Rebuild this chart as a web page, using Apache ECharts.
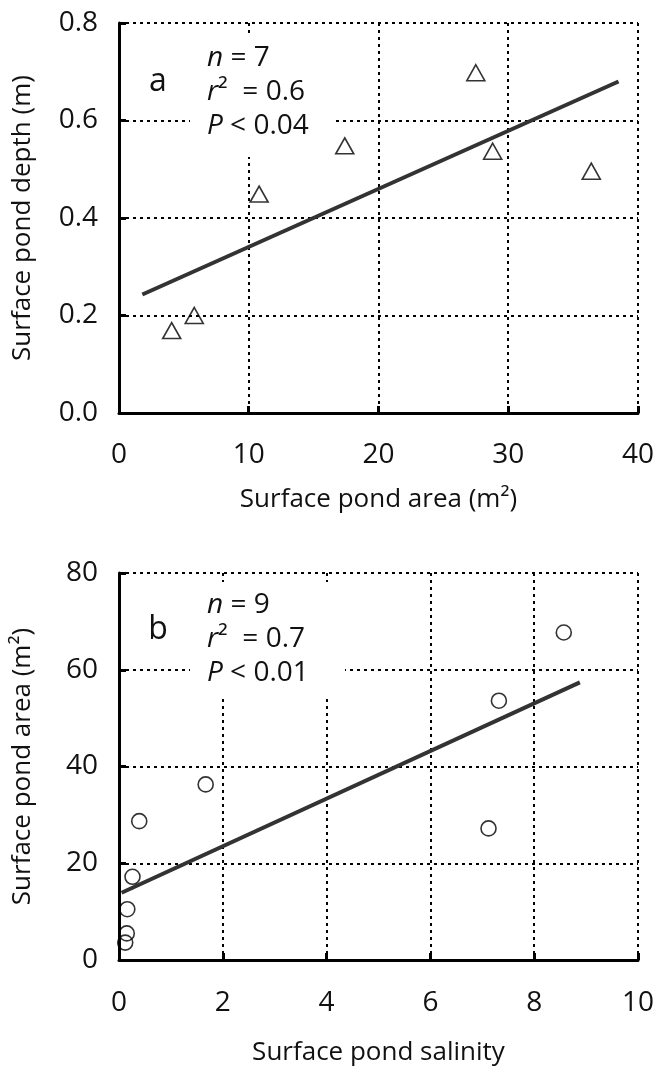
<!DOCTYPE html>
<html>
<head>
<meta charset="utf-8">
<script src="https://cdn.jsdelivr.net/npm/echarts@6/dist/echarts.min.js"></script>
<style>
  html, body { margin: 0; padding: 0; background: #fff; }
  #chart { width: 657px; height: 1068px; }
</style>
</head>
<body>
<div id="chart"></div>
<script>
// Panel a: pond depth against pond area
const depthArea  = [4.06, 5.8, 10.8, 17.4, 27.5, 28.8, 36.4];
const depthValue = [0.169, 0.20, 0.449, 0.548, 0.698, 0.537, 0.496];
const fitAX = [1.8, 38.5];
const fitAY = [0.243, 0.680];

// Panel b: pond area against salinity
const salinity  = [0.12, 0.15, 0.16, 0.26, 0.39, 1.67, 7.12, 7.32, 8.57];
const pondArea  = [3.6, 5.5, 10.5, 17.2, 28.7, 36.3, 27.2, 53.6, 67.7];
const fitBX = [0.05, 8.88];
const fitBY = [13.9, 57.4];

// Statistics text
const statsA = ['{i|n} = 7', '{i|r}²  = 0.6', '{i|P} < 0.04'];
const statsB = ['{i|n} = 9', '{i|r}²  = 0.7', '{i|P} < 0.01'];

const FONT = '"Open Sans", "Noto Sans", sans-serif';
const zip = (xs, ys) => xs.map((x, i) => [x, ys[i]]);

const grids = [
  { left: 119, top: 23, width: 531, height: 390 },
  { left: 119, top: 573, width: 531, height: 387 }
];

function xAxisFor(gridIndex, max, interval, name, nameGap, margin) {
  return {
    type: 'value', gridIndex, min: 0, max, interval,
    name, nameLocation: 'middle', nameGap,
    nameTextStyle: { fontFamily: FONT, fontSize: 26, color: '#111' },
    axisLine: { onZero: false, lineStyle: { color: '#000', width: 3 } },
    axisTick: { inside: true, length: 7, lineStyle: { color: '#000', width: 3 } },
    axisLabel: { margin, fontFamily: FONT, fontSize: 28, color: '#111' },
    splitLine: { show: true, showMinLine: false,
      lineStyle: { color: '#000', width: 2, type: [3, 4] } }
  };
}
function yAxisFor(gridIndex, max, interval, name, fmt, padTop) {
  return {
    type: 'value', gridIndex, min: 0, max, interval,
    name, nameLocation: 'middle', nameGap: 83,
    nameTextStyle: { fontFamily: FONT, fontSize: 26, color: '#111' },
    axisLine: { onZero: false, lineStyle: { color: '#000', width: 3 } },
    axisTick: { inside: true, length: 7, lineStyle: { color: '#000', width: 3 } },
    axisLabel: { margin: 21, fontFamily: FONT, fontSize: 28, color: '#111',
      formatter: fmt, padding: [padTop, 0, 0, 0] },
    splitLine: { show: true, showMinLine: false,
      lineStyle: { color: '#000', width: 2, type: [3, 4] } }
  };
}

function statsGraphics(x, y0, lines, letter, letterY) {
  const rich = { i: { fontFamily: FONT, fontSize: 28, fontStyle: 'italic', fill: '#111' } };
  const els = lines.map((t, k) => ({
    type: 'text', z: 10,
    style: { x, y: y0 + k * 34, text: t, rich, fill: '#111',
      font: '28px ' + FONT, verticalAlign: 'middle', align: 'left' }
  }));
  els.push({
    type: 'text', z: 10,
    style: { x: 158, y: letterY, text: letter, fill: '#111',
      font: '32px ' + FONT, verticalAlign: 'middle', align: 'center' }
  });
  return els;
}

const chart = echarts.init(document.getElementById('chart'), null, { renderer: 'canvas' });
chart.setOption({
  backgroundColor: '#fff',
  animation: false,
  grid: grids,
  xAxis: [
    xAxisFor(0, 40, 10, 'Surface pond area (m²)', 74, 28),
    xAxisFor(1, 10, 2, 'Surface pond salinity', 80, 29)
  ],
  yAxis: [
    yAxisFor(0, 0.8, 0.2, 'Surface pond depth (m)', v => v.toFixed(1), 8),
    yAxisFor(1, 80, 20, 'Surface pond area (m²)', v => String(v), 0)
  ],
  graphic: [
    // white panels behind the statistics text
    { type: 'rect', z: 1, shape: { x: 190, y: 33, width: 143, height: 124 }, style: { fill: '#fff' } },
    { type: 'rect', z: 1, shape: { x: 190, y: 582, width: 155, height: 116 }, style: { fill: '#fff' } },
    ...statsGraphics(207, 58, statsA, 'a', 82),
    ...statsGraphics(207, 605, statsB, 'b', 630)
  ],
  series: [
    {
      type: 'line', xAxisIndex: 0, yAxisIndex: 0, data: zip(fitAX, fitAY),
      symbol: 'none', lineStyle: { color: '#333', width: 4 }, z: 3
    },
    {
      type: 'scatter', xAxisIndex: 0, yAxisIndex: 0, data: zip(depthArea, depthValue),
      symbol: 'triangle', symbolSize: [18, 16],
      itemStyle: { color: 'rgba(0,0,0,0)', borderColor: '#000', borderWidth: 1.6 }, z: 4
    },
    {
      type: 'line', xAxisIndex: 1, yAxisIndex: 1, data: zip(fitBX, fitBY),
      symbol: 'none', lineStyle: { color: '#333', width: 4 }, z: 3
    },
    {
      type: 'scatter', xAxisIndex: 1, yAxisIndex: 1, data: zip(salinity, pondArea),
      symbol: 'circle', symbolSize: 15,
      itemStyle: { color: 'rgba(0,0,0,0)', borderColor: '#000', borderWidth: 1.6 }, z: 4
    }
  ]
});
</script>
</body>
</html>
